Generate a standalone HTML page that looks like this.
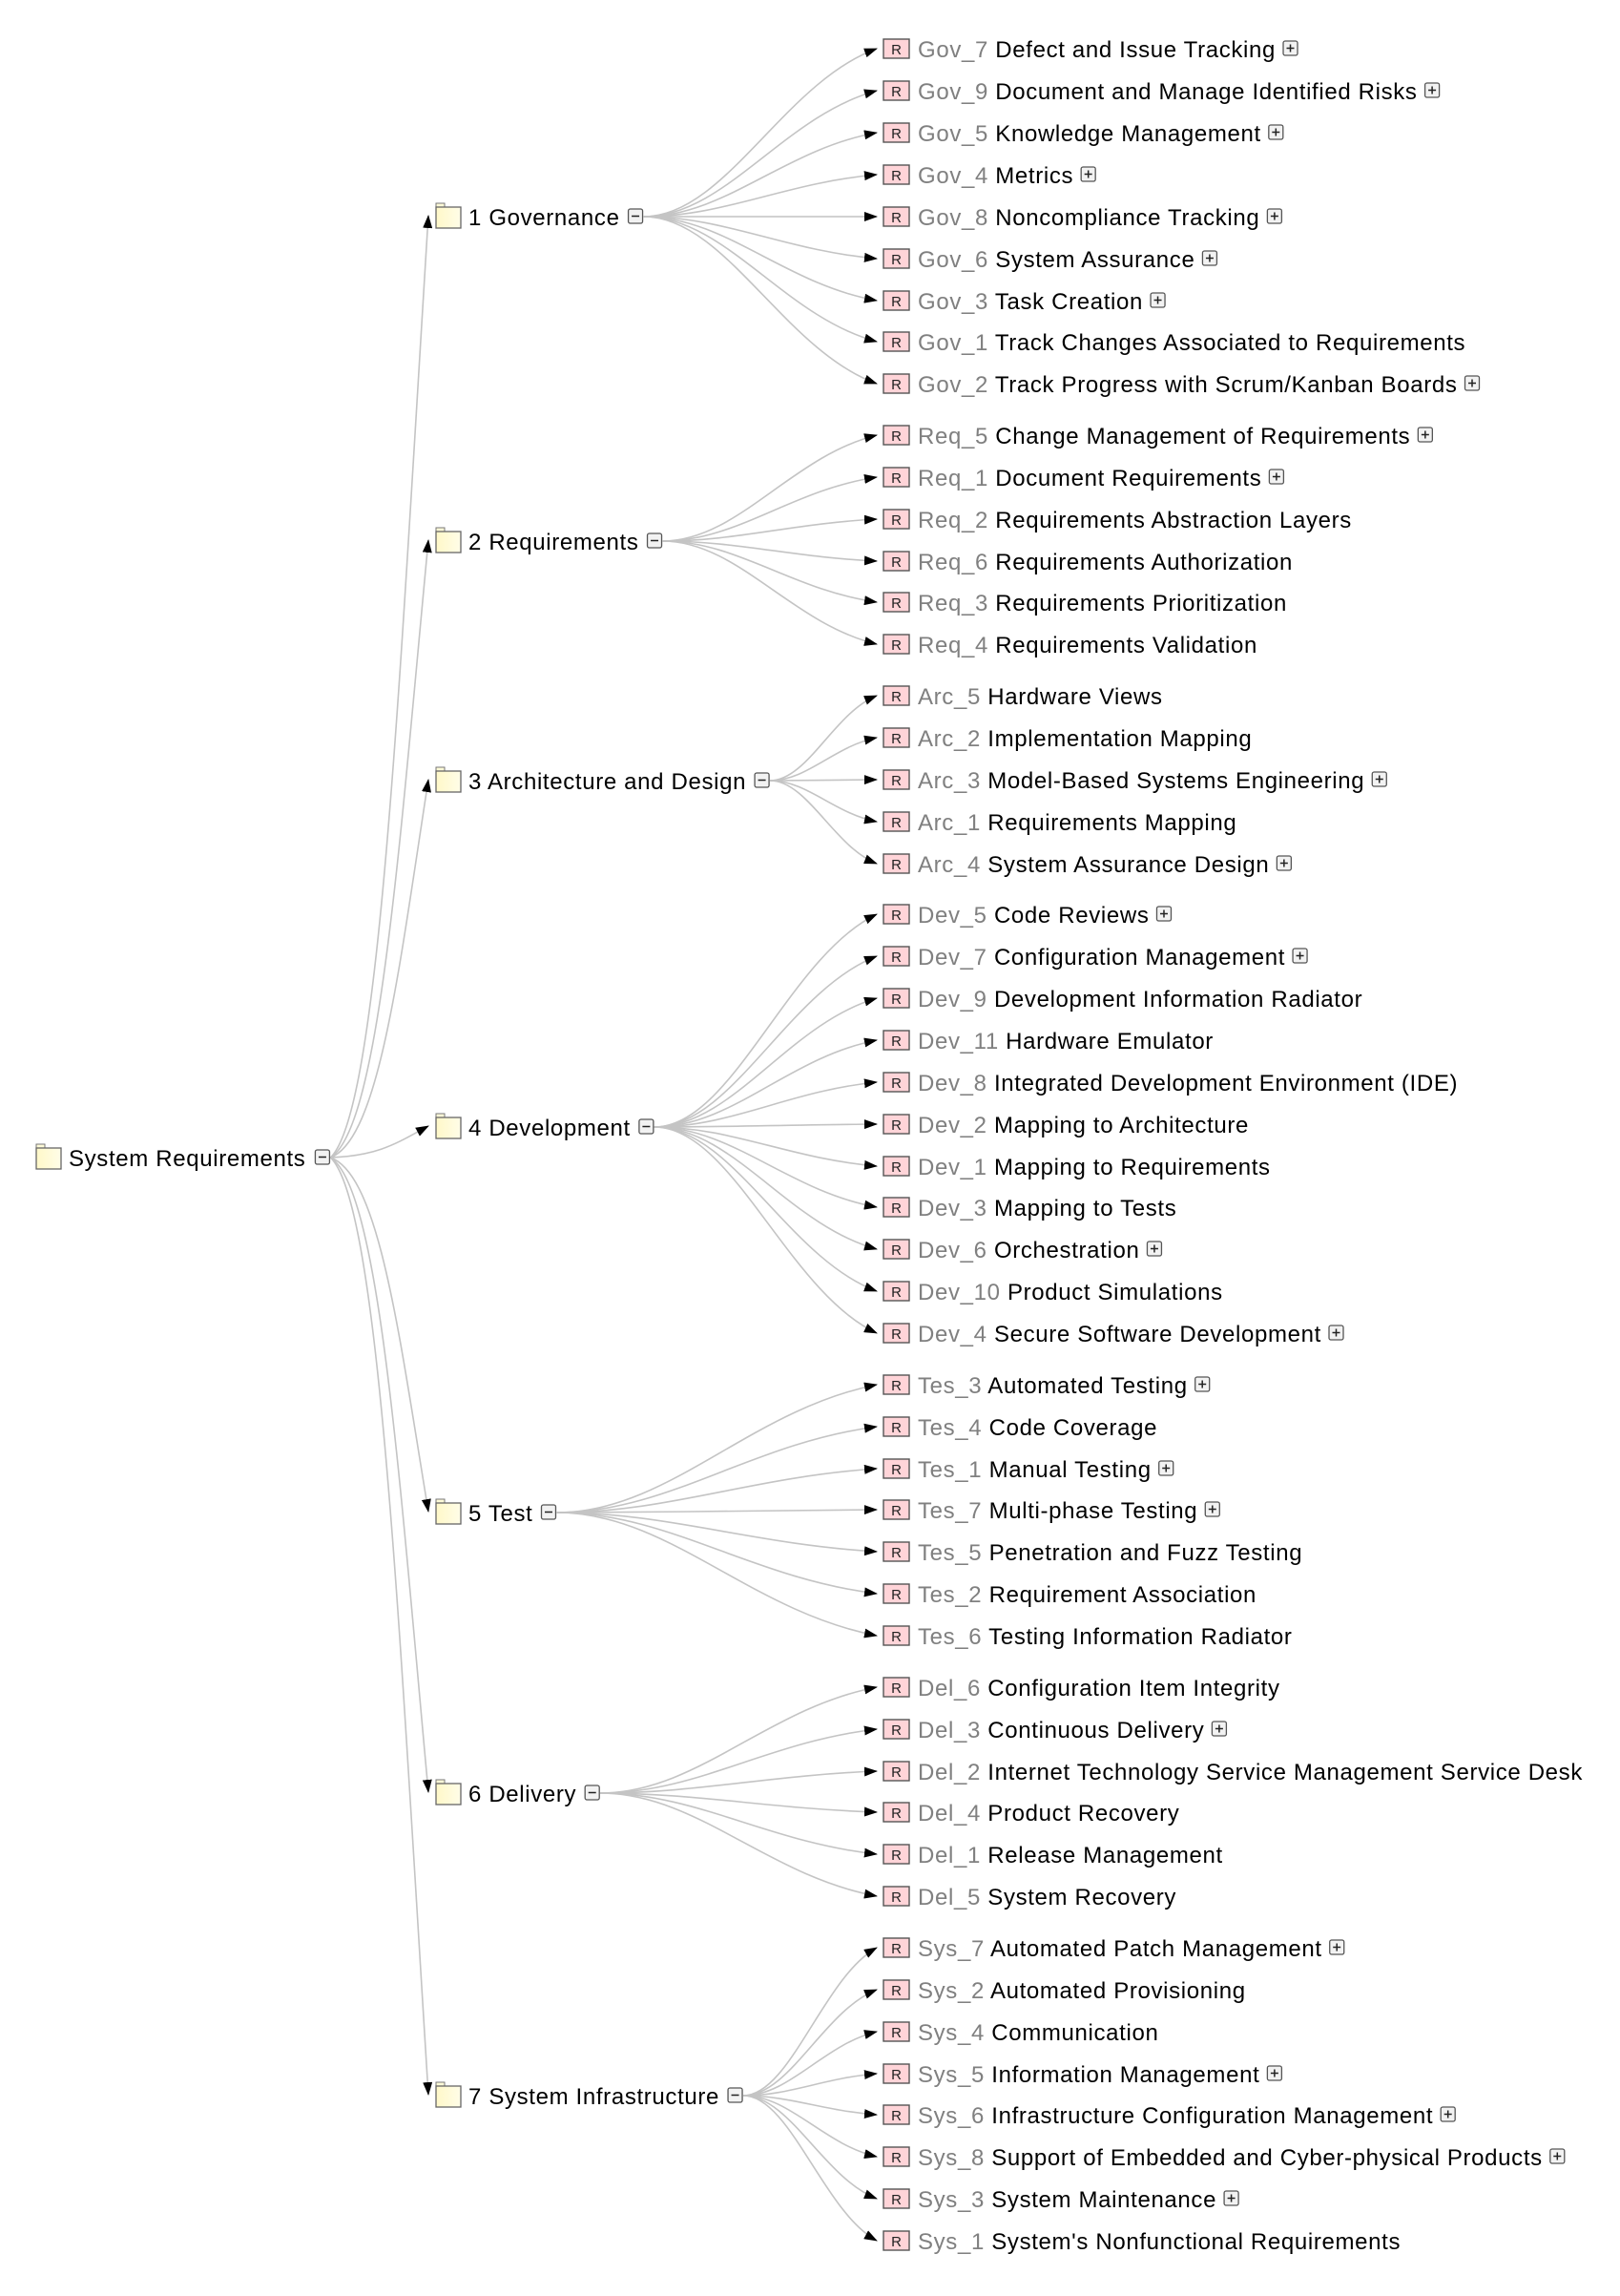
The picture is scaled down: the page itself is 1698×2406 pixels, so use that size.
<!DOCTYPE html>
<html><head><meta charset="utf-8">
<style>
html,body{margin:0;padding:0;background:#fff;}
svg{display:block;}
text{font-family:"Liberation Sans",sans-serif;font-size:24px;letter-spacing:0.65px;fill:#000;}
.id{fill:#808080;}
</style></head>
<body>
<svg id="s" width="1698" height="2406" viewBox="0 0 1698 2406" xmlns="http://www.w3.org/2000/svg">
<defs>
<marker id="ar" markerWidth="14" markerHeight="10" refX="13" refY="5" orient="auto" markerUnits="userSpaceOnUse">
<path d="M0,0 L14,5 L0,10 Z" fill="#000"/>
</marker>
<linearGradient id="fg" x1="0" x2="1"><stop offset="0" stop-color="#fff8c8"/><stop offset="1" stop-color="#fffde8"/></linearGradient>
</defs>
<g id="edges" fill="none" stroke="#c4c4c4" stroke-width="1.6"></g>
<g id="icons"></g>
<g id="labels">
<text class="root" x="72" y="1222">System Requirements</text>

<text class="cat" x="491" y="236">1 Governance</text>
<text class="cat" x="491" y="576">2 Requirements</text>
<text class="cat" x="491" y="827">3 Architecture and Design</text>
<text class="cat" x="491" y="1190">4 Development</text>
<text class="cat" x="491" y="1594">5 Test</text>
<text class="cat" x="491" y="1888">6 Delivery</text>
<text class="cat" x="491" y="2205">7 System Infrastructure</text>

<text class="leaf p" x="962" y="60"><tspan class="id">Gov_7</tspan> Defect and Issue Tracking</text>
<text class="leaf p" x="962" y="104"><tspan class="id">Gov_9</tspan> Document and Manage Identified Risks</text>
<text class="leaf p" x="962" y="148"><tspan class="id">Gov_5</tspan> Knowledge Management</text>
<text class="leaf p" x="962" y="192"><tspan class="id">Gov_4</tspan> Metrics</text>
<text class="leaf p" x="962" y="236"><tspan class="id">Gov_8</tspan> Noncompliance Tracking</text>
<text class="leaf p" x="962" y="280"><tspan class="id">Gov_6</tspan> System Assurance</text>
<text class="leaf p" x="962" y="324"><tspan class="id">Gov_3</tspan> Task Creation</text>
<text class="leaf" x="962" y="367"><tspan class="id">Gov_1</tspan> Track Changes Associated to Requirements</text>
<text class="leaf p" x="962" y="411"><tspan class="id">Gov_2</tspan> Track Progress with Scrum/Kanban Boards</text>

<text class="leaf p" x="962" y="465"><tspan class="id">Req_5</tspan> Change Management of Requirements</text>
<text class="leaf p" x="962" y="509"><tspan class="id">Req_1</tspan> Document Requirements</text>
<text class="leaf" x="962" y="553"><tspan class="id">Req_2</tspan> Requirements Abstraction Layers</text>
<text class="leaf" x="962" y="597"><tspan class="id">Req_6</tspan> Requirements Authorization</text>
<text class="leaf" x="962" y="640"><tspan class="id">Req_3</tspan> Requirements Prioritization</text>
<text class="leaf" x="962" y="684"><tspan class="id">Req_4</tspan> Requirements Validation</text>

<text class="leaf" x="962" y="738"><tspan class="id">Arc_5</tspan> Hardware Views</text>
<text class="leaf" x="962" y="782"><tspan class="id">Arc_2</tspan> Implementation Mapping</text>
<text class="leaf p" x="962" y="826"><tspan class="id">Arc_3</tspan> Model-Based Systems Engineering</text>
<text class="leaf" x="962" y="870"><tspan class="id">Arc_1</tspan> Requirements Mapping</text>
<text class="leaf p" x="962" y="914"><tspan class="id">Arc_4</tspan> System Assurance Design</text>

<text class="leaf p" x="962" y="967"><tspan class="id">Dev_5</tspan> Code Reviews</text>
<text class="leaf p" x="962" y="1011"><tspan class="id">Dev_7</tspan> Configuration Management</text>
<text class="leaf" x="962" y="1055"><tspan class="id">Dev_9</tspan> Development Information Radiator</text>
<text class="leaf" x="962" y="1099"><tspan class="id">Dev_11</tspan> Hardware Emulator</text>
<text class="leaf" x="962" y="1143"><tspan class="id">Dev_8</tspan> Integrated Development Environment (IDE)</text>
<text class="leaf" x="962" y="1187"><tspan class="id">Dev_2</tspan> Mapping to Architecture</text>
<text class="leaf" x="962" y="1231"><tspan class="id">Dev_1</tspan> Mapping to Requirements</text>
<text class="leaf" x="962" y="1274"><tspan class="id">Dev_3</tspan> Mapping to Tests</text>
<text class="leaf p" x="962" y="1318"><tspan class="id">Dev_6</tspan> Orchestration</text>
<text class="leaf" x="962" y="1362"><tspan class="id">Dev_10</tspan> Product Simulations</text>
<text class="leaf p" x="962" y="1406"><tspan class="id">Dev_4</tspan> Secure Software Development</text>

<text class="leaf p" x="962" y="1460"><tspan class="id">Tes_3</tspan> Automated Testing</text>
<text class="leaf" x="962" y="1504"><tspan class="id">Tes_4</tspan> Code Coverage</text>
<text class="leaf p" x="962" y="1548"><tspan class="id">Tes_1</tspan> Manual Testing</text>
<text class="leaf p" x="962" y="1591"><tspan class="id">Tes_7</tspan> Multi-phase Testing</text>
<text class="leaf" x="962" y="1635"><tspan class="id">Tes_5</tspan> Penetration and Fuzz Testing</text>
<text class="leaf" x="962" y="1679"><tspan class="id">Tes_2</tspan> Requirement Association</text>
<text class="leaf" x="962" y="1723"><tspan class="id">Tes_6</tspan> Testing Information Radiator</text>

<text class="leaf" x="962" y="1777"><tspan class="id">Del_6</tspan> Configuration Item Integrity</text>
<text class="leaf p" x="962" y="1821"><tspan class="id">Del_3</tspan> Continuous Delivery</text>
<text class="leaf" x="962" y="1865"><tspan class="id">Del_2</tspan> Internet Technology Service Management Service Desk</text>
<text class="leaf" x="962" y="1908"><tspan class="id">Del_4</tspan> Product Recovery</text>
<text class="leaf" x="962" y="1952"><tspan class="id">Del_1</tspan> Release Management</text>
<text class="leaf" x="962" y="1996"><tspan class="id">Del_5</tspan> System Recovery</text>

<text class="leaf p" x="962" y="2050"><tspan class="id">Sys_7</tspan> Automated Patch Management</text>
<text class="leaf" x="962" y="2094"><tspan class="id">Sys_2</tspan> Automated Provisioning</text>
<text class="leaf" x="962" y="2138"><tspan class="id">Sys_4</tspan> Communication</text>
<text class="leaf p" x="962" y="2182"><tspan class="id">Sys_5</tspan> Information Management</text>
<text class="leaf p" x="962" y="2225"><tspan class="id">Sys_6</tspan> Infrastructure Configuration Management</text>
<text class="leaf p" x="962" y="2269"><tspan class="id">Sys_8</tspan> Support of Embedded and Cyber-physical Products</text>
<text class="leaf p" x="962" y="2313"><tspan class="id">Sys_3</tspan> System Maintenance</text>
<text class="leaf" x="962" y="2357"><tspan class="id">Sys_1</tspan> System's Nonfunctional Requirements</text>
</g>
</svg>
<script>
(function(){
var NS="http://www.w3.org/2000/svg";
var E=document.getElementById('edges'),I=document.getElementById('icons');
function el(t,a,p){var e=document.createElementNS(NS,t);for(var k in a)e.setAttribute(k,a[k]);(p||I).appendChild(e);return e;}
function folder(x,cy){
 el('path',{d:'M'+x+','+(cy-10)+' v-4 h9 v4 z',fill:'#fffbd8',stroke:'#777','stroke-width':1});
 el('rect',{x:x,y:cy-10,width:26,height:22,fill:'url(#fg)',stroke:'#666','stroke-width':1.3});
}
function box(x,cy,plus){
 el('rect',{x:x,y:cy-8,width:15,height:15,rx:2,fill:'#f2f2f2',stroke:'#555','stroke-width':1.3});
 el('line',{x1:x+3.5,y1:cy-0.5,x2:x+11.5,y2:cy-0.5,stroke:'#222','stroke-width':1.5});
 if(plus)el('line',{x1:x+7.5,y1:cy-4.5,x2:x+7.5,y2:cy+3.5,stroke:'#222','stroke-width':1.5});
}
function curve(x0,y0,x1,y1,root){
 var dx=x1-x0,d;
 if(root){d='M'+x0+','+y0+' C'+(x0+dx*0.5)+','+(y0+(y1-y0)*0.05)+' '+(x1-dx*0.3)+','+(y1+(y0-y1)*0.5)+' '+x1+','+y1;}
 else{d='M'+x0+','+y0+' C'+(x0+dx*0.35)+','+y0+' '+(x1-dx*0.4)+','+(y1+(y0-y1)*0.2)+' '+x1+','+y1;}
 el('path',{d:d,'marker-end':'url(#ar)'},E);
}
var r=document.querySelector('.root');var rcy=+r.getAttribute('y')-9;
folder(38,rcy);var rb=r.getBBox();var rbx=rb.x+rb.width+10;box(rbx,rcy,false);
var cats=[].slice.call(document.querySelectorAll('.cat'));
var leaves=[].slice.call(document.querySelectorAll('.leaf'));
var counts=[9,6,5,11,7,6,8],li=0;
cats.forEach(function(c,ci){
 var cy=+c.getAttribute('y')-9;folder(457,cy);
 var b=c.getBBox();var bx=b.x+b.width+9;box(bx,cy,false);
 curve(rbx+16,rcy,449,cy-1,true);
 for(var k=0;k<counts[ci];k++,li++){
  var L=leaves[li];var ly=+L.getAttribute('y')-9;
  el('rect',{x:926,y:ly-10,width:27,height:20,fill:'#ffd4d8',stroke:'#555','stroke-width':1.4});
  var t=el('text',{x:939.5,y:ly+6,'text-anchor':'middle'});t.setAttribute('style','font-size:15px;letter-spacing:0;fill:#222');t.textContent='R';
  curve(bx+16,cy,919,ly,false);
  if(L.classList.contains('p')){var lb=L.getBBox();box(lb.x+lb.width+8,ly,true);}
 }
});
})();
</script>
</body></html>
